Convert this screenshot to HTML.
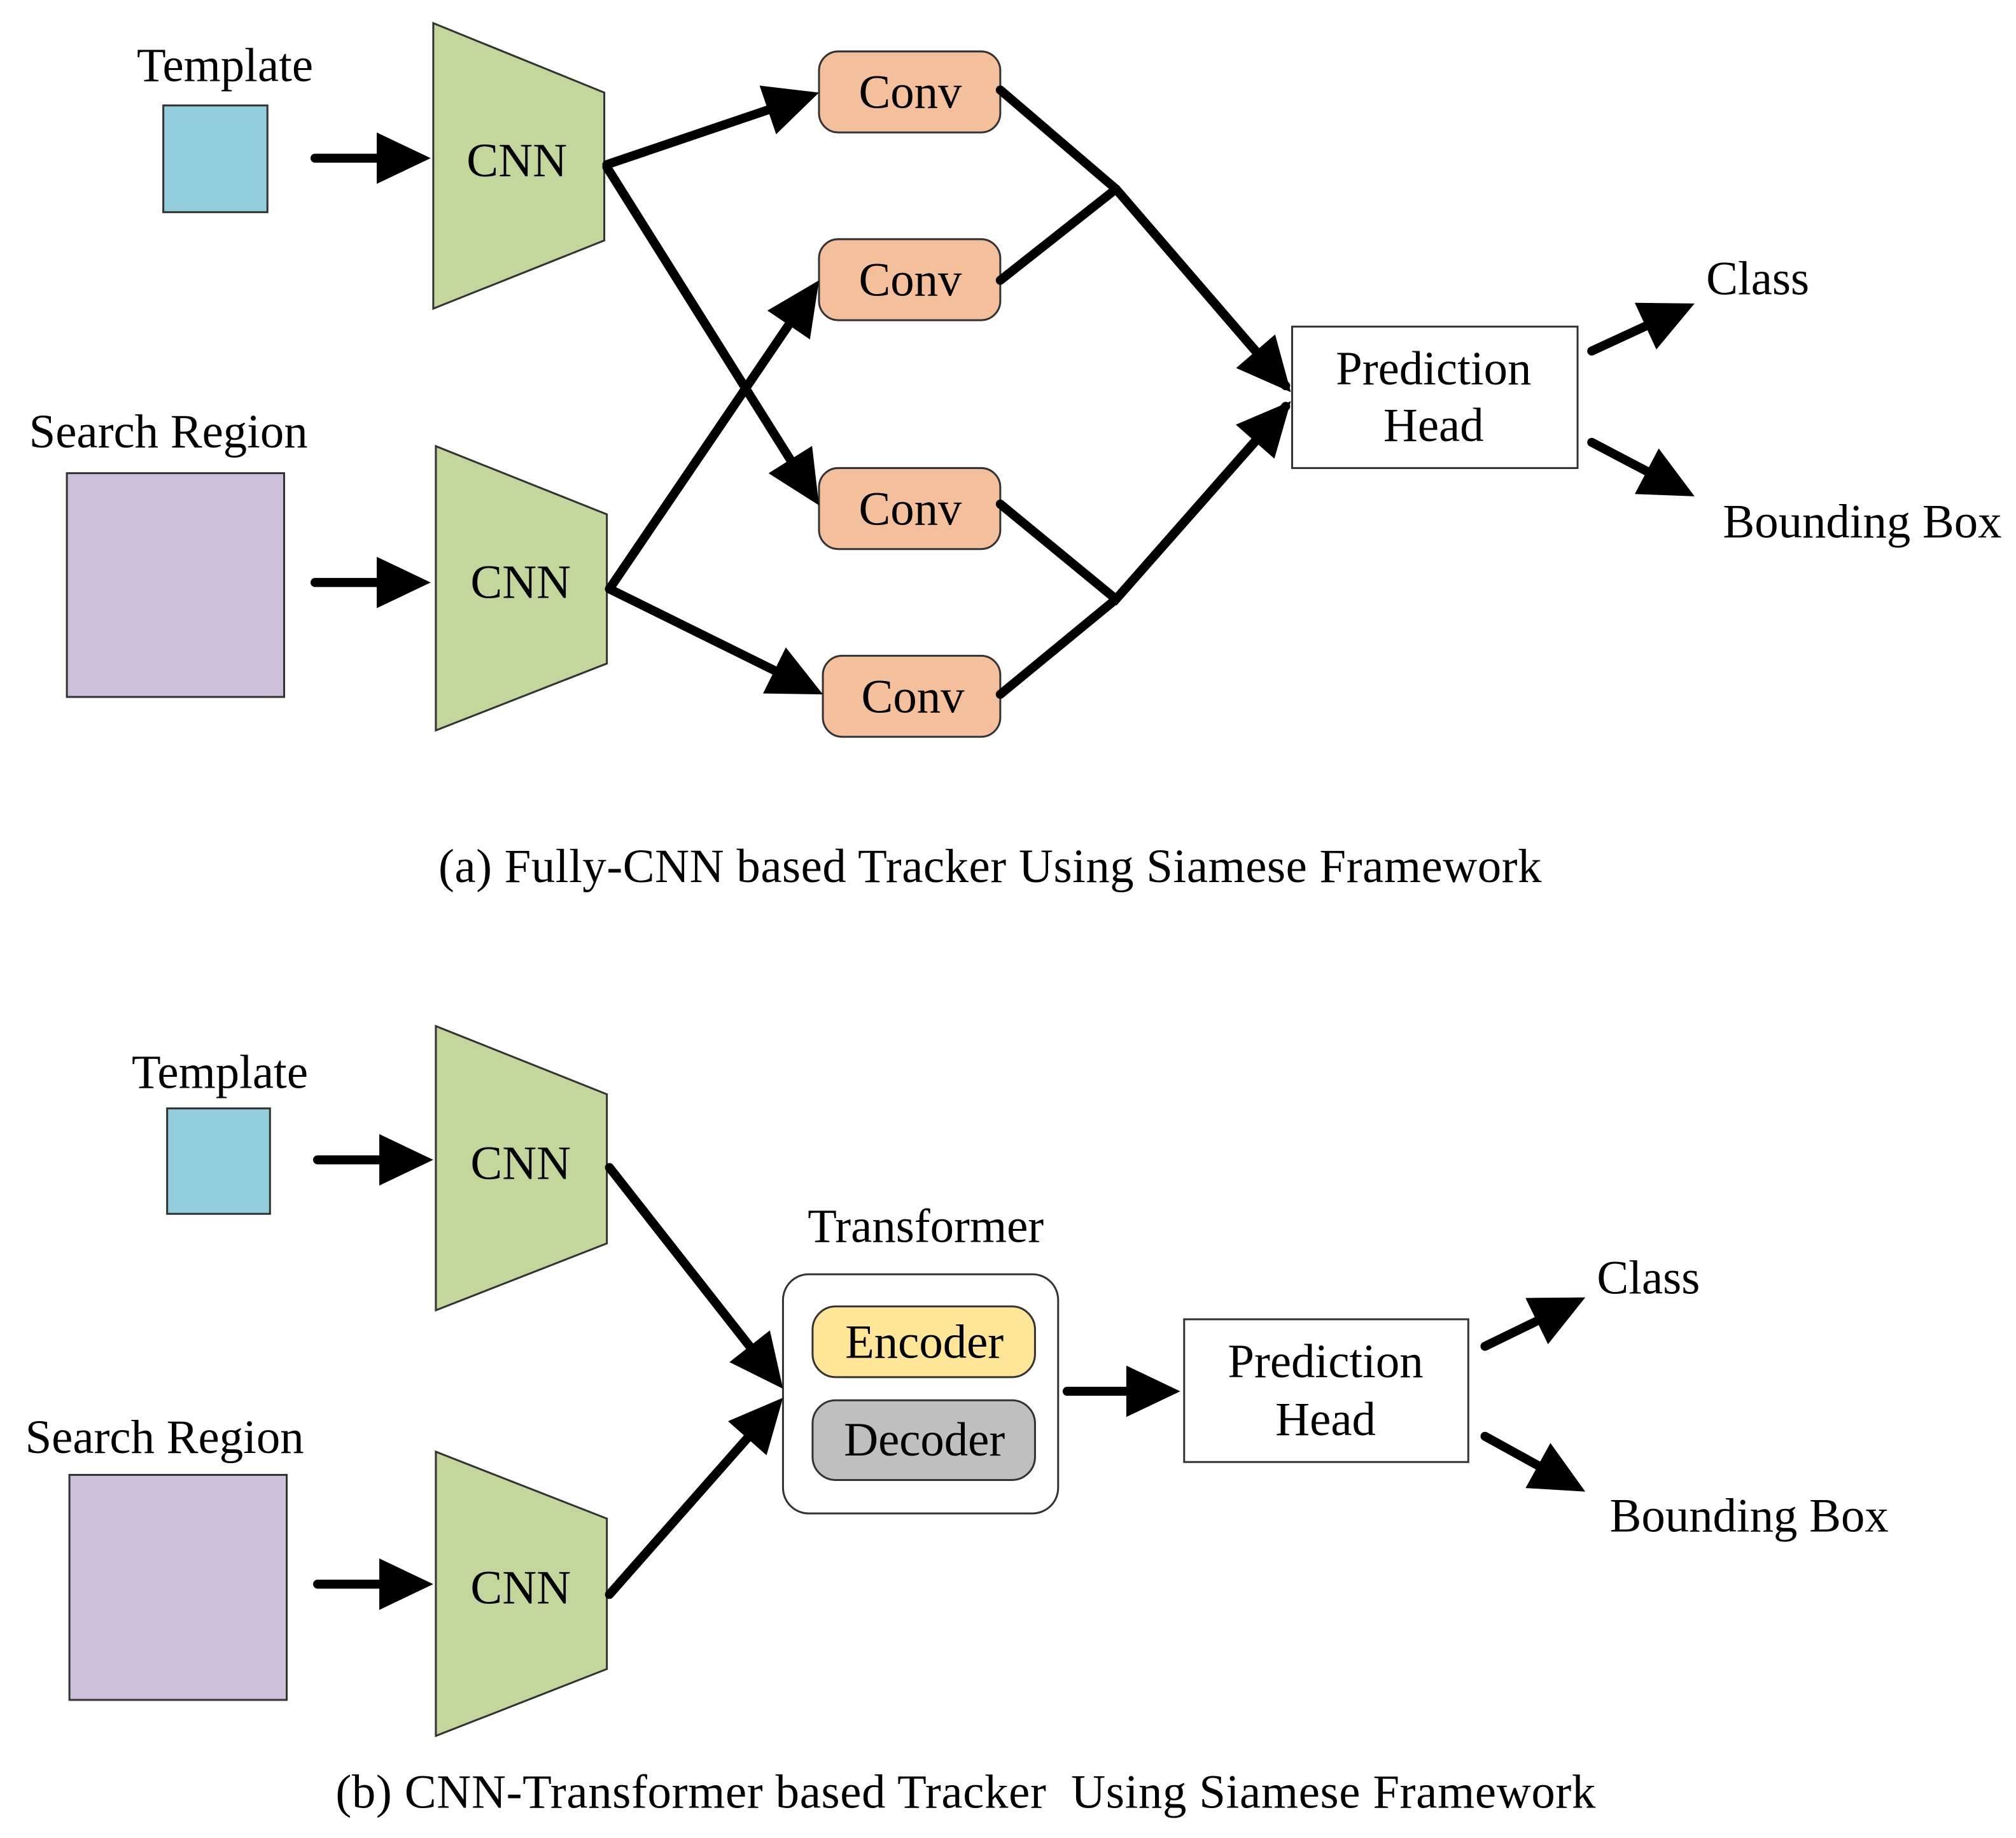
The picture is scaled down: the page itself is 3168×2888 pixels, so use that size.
<!DOCTYPE html>
<html><head><meta charset="utf-8">
<style>html,body{margin:0;padding:0;background:#fff}svg{display:block}
text{font-family:"Liberation Serif",serif;fill:#000}</style></head>
<body>
<svg id="s" width="3168" height="2888" viewBox="0 0 1568 1429.4" preserveAspectRatio="none" xmlns="http://www.w3.org/2000/svg">
<g stroke="#333" stroke-width="1.5">
<rect x="127" y="82" width="81" height="83" fill="#92CDDC"/>
<rect x="52" y="368" width="169" height="174" fill="#CCC0DA"/>
<polygon points="337,18 470,72 470,187 337,240" fill="#C3D69B"/>
<polygon points="339,347 472,400 472,516 339,568" fill="#C3D69B"/>
<rect x="637" y="40" width="141" height="63" rx="15" fill="#F4BF9B"/>
<rect x="637" y="186" width="141" height="63" rx="15" fill="#F4BF9B"/>
<rect x="637" y="364" width="141" height="63" rx="15" fill="#F4BF9B"/>
<rect x="640" y="510" width="138" height="63" rx="15" fill="#F4BF9B"/>
<rect x="1005" y="254" width="222" height="110" fill="#fff"/>
<rect x="130" y="862" width="80" height="82" fill="#92CDDC"/>
<rect x="54" y="1147" width="169" height="175" fill="#CCC0DA"/>
<polygon points="339,798 472,851 472,967 339,1019" fill="#C3D69B"/>
<polygon points="339,1129 472,1181 472,1298 339,1350" fill="#C3D69B"/>
<rect x="609" y="991" width="214" height="186" rx="20" fill="#fff"/>
<rect x="632" y="1016" width="173" height="55" rx="18" fill="#FFE699"/>
<rect x="632" y="1089" width="173" height="62" rx="18" fill="#BFBFBF"/>
<rect x="921" y="1026" width="221" height="111" fill="#fff"/>
</g>
<g stroke="#000" stroke-width="7" fill="none" stroke-linecap="round">
<polyline points="778,70 868,147 1000,300"/>
<polyline points="778,218 868,147"/>
<polyline points="778,392 868,466 1000,316"/>
<polyline points="778,540 868,466"/>
</g>
<g id="arrows"></g>
<g font-size="37">
<text x="175" y="63" text-anchor="middle">Template</text>
<text x="131" y="348" text-anchor="middle">Search Region</text>
<text x="402" y="137" text-anchor="middle">CNN</text>
<text x="405" y="465" text-anchor="middle">CNN</text>
<text x="708" y="84" text-anchor="middle">Conv</text>
<text x="708" y="230" text-anchor="middle">Conv</text>
<text x="708" y="408" text-anchor="middle">Conv</text>
<text x="710" y="554" text-anchor="middle">Conv</text>
<text x="1115" y="299" text-anchor="middle">Prediction</text>
<text x="1115" y="343" text-anchor="middle">Head</text>
<text x="1327" y="229">Class</text>
<text x="1340" y="418">Bounding Box</text>
<text x="770" y="686" text-anchor="middle" textLength="858">(a) Fully-CNN based Tracker Using Siamese Framework</text>
<text x="171" y="846" text-anchor="middle">Template</text>
<text x="128" y="1130" text-anchor="middle">Search Region</text>
<text x="405" y="917" text-anchor="middle">CNN</text>
<text x="405" y="1247" text-anchor="middle">CNN</text>
<text x="720" y="966" text-anchor="middle">Transformer</text>
<text x="719" y="1056" text-anchor="middle">Encoder</text>
<text x="719" y="1132" text-anchor="middle">Decoder</text>
<text x="1031" y="1071" text-anchor="middle">Prediction</text>
<text x="1031" y="1116" text-anchor="middle">Head</text>
<text x="1242" y="1006">Class</text>
<text x="1252" y="1191">Bounding Box</text>
<text x="751" y="1406" text-anchor="middle" textLength="980" xml:space="preserve">(b) CNN-Transformer based Tracker  Using Siamese Framework</text>
</g>
<script>
var A=[[245,123,335,123],[472,128,637,72],[472,130,637,393],[474,458,637,218],[474,458,640,540],
[245,453,335,453],[868,147,1004,305],[868,466,1004,312],[1238,273,1318,236],[1238,344,1318,386],
[247,902,337,902],[247,1232,337,1232],[474,908,609,1080],[474,1240,609,1087],[830,1082,918,1082],
[1155,1047,1233,1009],[1155,1117,1233,1160]];
var g=document.getElementById('arrows'),ns='http://www.w3.org/2000/svg',L=42,W=20;
A.forEach(function(a){var dx=a[2]-a[0],dy=a[3]-a[1],d=Math.hypot(dx,dy),ux=dx/d,uy=dy/d;
var bx=a[2]-ux*L,by=a[3]-uy*L;
var l=document.createElementNS(ns,'line');l.setAttribute('x1',a[0]);l.setAttribute('y1',a[1]);
l.setAttribute('x2',bx+ux*4);l.setAttribute('y2',by+uy*4);l.setAttribute('stroke','#000');
l.setAttribute('stroke-width','7');l.setAttribute('stroke-linecap','round');g.appendChild(l);
var p=document.createElementNS(ns,'polygon');
p.setAttribute('points',a[2]+','+a[3]+' '+(bx-uy*W)+','+(by+ux*W)+' '+(bx+uy*W)+','+(by-ux*W));
p.setAttribute('fill','#000');g.appendChild(p);});
</script>
</svg>
</body></html>
